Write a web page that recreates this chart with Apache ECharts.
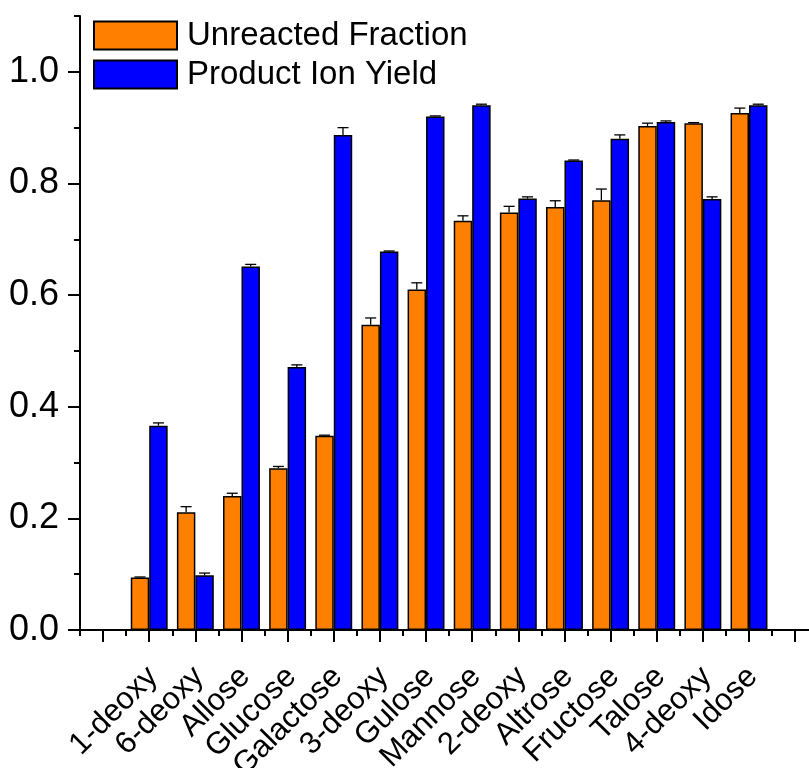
<!DOCTYPE html>
<html>
<head>
<meta charset="utf-8">
<script src="https://cdn.jsdelivr.net/npm/echarts@6/dist/echarts.min.js"></script>
<style>
html,body{margin:0;padding:0;background:#fff;}
#chart{width:809px;height:768px;}
</style>
</head>
<body>
<div id="chart"></div>
<script>
var categories = ['1-deoxy','6-deoxy','Allose','Glucose','Galactose','3-deoxy','Gulose','Mannose','2-deoxy','Altrose','Fructose','Talose','4-deoxy','Idose'];
var unreacted    = [0.094, 0.211, 0.240, 0.290, 0.348, 0.547, 0.610, 0.733, 0.748, 0.758, 0.770, 0.903, 0.908, 0.926];
var unreactedErr = [0.001, 0.010, 0.005, 0.003, 0.001, 0.012, 0.012, 0.009, 0.011, 0.011, 0.020, 0.005, 0.001, 0.009];
var product      = [0.366, 0.098, 0.651, 0.471, 0.887, 0.678, 0.920, 0.940, 0.773, 0.841, 0.880, 0.910, 0.772, 0.940];
var productErr   = [0.005, 0.004, 0.004, 0.004, 0.013, 0.001, 0.001, 0.002, 0.003, 0.001, 0.007, 0.002, 0.004, 0.002];
var yMajorTicks = [0, 0.2, 0.4, 0.6, 0.8, 1.0];
var yMinorTicks = [0, 0.1, 0.2, 0.3, 0.4, 0.5, 0.6, 0.7, 0.8, 0.9, 1.0, 1.1];
var xMajorTicks = [0,1,2,3,4,5,6,7,8,9,10,11,12,13,14,15];
var xMinorTicks = [-0.5,0.5,1.5,2.5,3.5,4.5,5.5,6.5,7.5,8.5,9.5,10.5,11.5,12.5,13.5,14.5];
var xLabelPositions = [1,2,3,4,5,6,7,8,9,10,11,12,13,14];

var FONT = 'Liberation Sans, Arial, sans-serif';
var X_MIN = -0.5, X_MAX = 15.3, Y_MIN = 0, Y_MAX = 1.1;
var BAR_FRAC = 0.4;
var LABEL_SHIFT = 0.08;

function pairs(vals, errs) {
  return vals.map(function (v, i) { return [i + 1, v, errs[i]]; });
}
function errRender(offset) {
  return function (params, api) {
    var x = api.value(0), v = api.value(1), e = api.value(2);
    var base = api.coord([x + offset, v]);
    var top = api.coord([x + offset, v + e]);
    var hw = 5.5;
    var st = { stroke: '#000', lineWidth: 1.3 };
    return {
      type: 'group',
      children: [
        { type: 'line', shape: { x1: base[0], y1: base[1], x2: top[0], y2: top[1] }, style: st },
        { type: 'line', shape: { x1: top[0] - hw, y1: top[1], x2: top[0] + hw, y2: top[1] }, style: st }
      ]
    };
  };
}

var gridPos = { left: 80, right: 0, top: 16, bottom: 138, containLabel: false, outerBoundsMode: 'none' };
var chart = echarts.init(document.getElementById('chart'));
chart.setOption({
  animation: false,
  backgroundColor: '#fff',
  textStyle: { fontFamily: FONT },
  legend: {
    orient: 'vertical', left: 93, top: 19, padding: 0,
    itemWidth: 83, itemHeight: 28, itemGap: 6,
    icon: 'rect',
    data: ['Unreacted Fraction', 'Product Ion Yield'],
    textStyle: { fontSize: 33, color: '#000', fontFamily: FONT, padding: [0, 0, 0, 5] },
    selectedMode: false
  },
  grid: [Object.assign({}, gridPos), Object.assign({}, gridPos)],
  xAxis: [{
    type: 'value', gridIndex: 0, min: X_MIN, max: X_MAX,
    splitLine: { show: false },
    axisLine: { show: true, onZero: false, lineStyle: { color: '#000', width: 2 } },
    axisTick: { show: true, length: 12, customValues: xMajorTicks, lineStyle: { color: '#000', width: 2 } },
    axisLabel: {
      show: true, customValues: xLabelPositions.map(function (p) { return p + LABEL_SHIFT; }),
      rotate: 45, margin: 42,
      fontSize: 31, color: '#000', fontFamily: FONT,
      formatter: function (v) { return categories[Math.round(v) - 1]; }
    }
  }, {
    type: 'value', gridIndex: 1, min: X_MIN, max: X_MAX,
    splitLine: { show: false },
    axisLine: { show: false, onZero: false },
    axisTick: { show: true, length: 6, customValues: xMinorTicks, lineStyle: { color: '#000', width: 2 } },
    axisLabel: { show: false }
  }],
  yAxis: [{
    type: 'value', gridIndex: 0, min: Y_MIN, max: Y_MAX,
    splitLine: { show: false },
    axisLine: { show: true, onZero: false, lineStyle: { color: '#000', width: 2 } },
    axisTick: { show: true, length: 12, customValues: yMajorTicks, lineStyle: { color: '#000', width: 2 } },
    axisLabel: {
      show: true, customValues: yMajorTicks, margin: 21,
      fontSize: 36, color: '#000', fontFamily: FONT,
      formatter: function (v) { return v.toFixed(1); }
    }
  }, {
    type: 'value', gridIndex: 1, min: Y_MIN, max: Y_MAX,
    splitLine: { show: false },
    axisLine: { show: false, onZero: false },
    axisTick: { show: true, length: 6, customValues: yMinorTicks, lineStyle: { color: '#000', width: 2 } },
    axisLabel: { show: false }
  }],
  series: [{
    name: 'Unreacted Fraction', type: 'bar', xAxisIndex: 0, yAxisIndex: 0,
    barWidth: (BAR_FRAC * 100) + '%', barGap: '0%',
    itemStyle: { color: '#FF8000', borderColor: '#000', borderWidth: 1.5 },
    data: unreacted.map(function (v, i) { return [i + 1, v]; })
  }, {
    name: 'Product Ion Yield', type: 'bar', xAxisIndex: 0, yAxisIndex: 0,
    barWidth: (BAR_FRAC * 100) + '%', barGap: '0%',
    itemStyle: { color: '#0000FF', borderColor: '#000', borderWidth: 1.5 },
    data: product.map(function (v, i) { return [i + 1, v]; })
  }, {
    name: 'errU', type: 'custom', xAxisIndex: 0, yAxisIndex: 0, z: 5,
    renderItem: errRender(-BAR_FRAC / 2),
    encode: { x: 0, y: 1 },
    data: pairs(unreacted, unreactedErr)
  }, {
    name: 'errP', type: 'custom', xAxisIndex: 0, yAxisIndex: 0, z: 5,
    renderItem: errRender(BAR_FRAC / 2),
    encode: { x: 0, y: 1 },
    data: pairs(product, productErr)
  }]
});
</script>
</body>
</html>
